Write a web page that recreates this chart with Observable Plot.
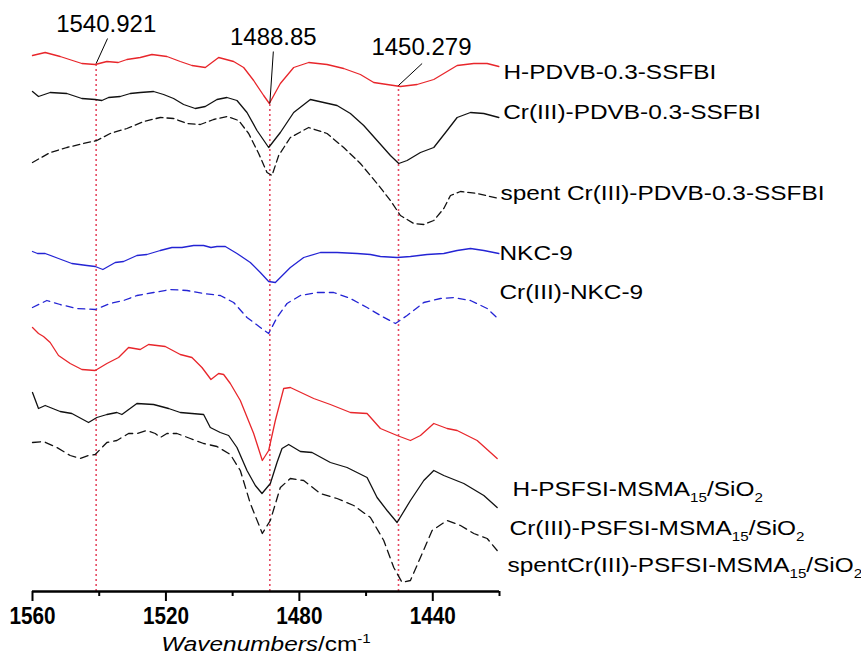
<!DOCTYPE html>
<html><head><meta charset="utf-8">
<script src="https://cdn.jsdelivr.net/npm/d3@7"></script>
<script src="https://cdn.jsdelivr.net/npm/@observablehq/plot@0.6"></script>
<style>body{margin:0;background:#fff;} svg{display:block;}</style>
</head><body><div id="chart"></div>
<script>
// ---- data: [wavenumber (cm-1), offset intensity (a.u.)] ----
const hPdvb = [[1560,53.6],[1556.2,53.9],[1551.7,53.5],[1545.2,52.8],[1541.2,52.7],[1537.7,53.0],[1534.3,52.9],[1531.7,53.2],[1527.7,53.4],[1524.2,53.7],[1519.7,53.5],[1515.7,53.0],[1512.2,52.6],[1508.2,52.4],[1504.2,53.4],[1499.7,53.0],[1496.7,52.4],[1493.7,51.1],[1490.7,49.6],[1489.0,48.8],[1485.7,50.8],[1481.7,52.4],[1477.2,52.9],[1471.7,52.7],[1466.7,52.3],[1461.7,51.7],[1457.7,50.9],[1453.7,50.7],[1449.7,50.5],[1444.7,50.7],[1439.7,51.2],[1435.7,52.0],[1432.7,52.6],[1427.7,52.8],[1423.7,52.8],[1420.2,52.5]];
const crPdvb = [[1560,50.0],[1558.2,49.5],[1554.7,49.9],[1549.7,49.8],[1545.2,49.3],[1541.2,49.2],[1539.2,49.1],[1537.2,49.4],[1533.7,49.5],[1530.7,49.8],[1527.7,49.9],[1523.7,50.0],[1520.7,49.7],[1517.7,49.3],[1514.7,48.7],[1511.2,48.3],[1508.2,48.5],[1504.7,49.2],[1501.7,49.4],[1498.7,49.1],[1495.7,47.9],[1492.7,46.1],[1489.2,44.4],[1485.7,45.9],[1481.7,47.9],[1476.7,49.2],[1472.7,48.9],[1468.7,48.6],[1464.7,47.8],[1460.7,46.6],[1456.7,45.1],[1452.7,43.6],[1450.2,42.8],[1447.7,43.1],[1443.7,43.9],[1439.7,44.4],[1435.7,46.1],[1432.7,47.4],[1428.7,47.9],[1424.7,47.8],[1420.2,47.4]];
const spentPdvb = [[1560,42.9],[1554.7,43.9],[1549.7,44.4],[1544.7,44.8],[1540.7,45.1],[1536.7,45.8],[1531.7,46.3],[1526.7,47.0],[1521.7,47.4],[1517.7,47.3],[1513.7,46.8],[1509.7,46.7],[1505.7,47.2],[1501.7,47.5],[1498.2,47.1],[1495.2,45.8],[1492.2,43.8],[1489.7,41.9],[1488.2,41.6],[1486.2,43.6],[1482.7,45.4],[1477.2,46.4],[1471.7,45.8],[1466.7,44.4],[1461.7,42.8],[1456.7,40.8],[1452.7,39.1],[1449.7,37.6],[1445.7,36.8],[1442.7,36.7],[1439.7,37.1],[1436.7,38.3],[1434.7,39.6],[1431.7,40.0],[1426.7,39.8],[1420.2,39.3]];
const nkc9 = [[1560,34.0],[1558.5,33.8],[1556.2,33.8],[1552.2,33.3],[1548.2,32.8],[1543.7,32.6],[1541.2,32.5],[1538.9,32.2],[1535.2,32.9],[1532.7,33.0],[1528.7,33.6],[1525.7,33.7],[1521.7,34.1],[1518.2,34.4],[1515.2,34.4],[1511.7,34.6],[1508.7,34.6],[1506.5,34.4],[1504.7,34.5],[1502.2,34.5],[1498.7,33.8],[1494.7,32.9],[1491.7,31.9],[1489.2,31.0],[1487.2,30.9],[1482.7,32.4],[1478.7,33.4],[1473.7,33.9],[1468.7,33.9],[1462.7,33.8],[1458.7,33.7],[1455.7,33.5],[1450.7,33.4],[1446.7,33.5],[1441.7,33.7],[1436.7,33.8],[1432.7,34.1],[1428.7,34.3],[1424.7,34.1],[1420.2,33.8]];
const crNkc9 = [[1560,28.4],[1555.7,29.1],[1551.7,28.7],[1546.7,28.3],[1541.2,28.2],[1536.7,28.8],[1532.7,29.1],[1528.7,29.6],[1523.7,29.9],[1518.7,30.2],[1513.7,30.1],[1508.7,29.8],[1503.7,29.6],[1499.7,28.9],[1495.7,27.4],[1491.7,26.4],[1489.2,25.8],[1486.7,27.4],[1483.7,28.8],[1479.7,29.6],[1474.7,29.9],[1469.7,29.9],[1464.7,29.3],[1459.7,28.4],[1455.7,27.6],[1451.2,26.8],[1447.7,27.6],[1442.7,28.9],[1437.7,29.3],[1433.7,29.4],[1428.7,29.1],[1423.7,28.3],[1420.2,27.2]];
const hPsfsi = [[1560,26.4],[1558.2,25.8],[1556.7,25.5],[1554.7,24.9],[1552.2,23.6],[1548.7,22.8],[1545.2,22.2],[1541.2,22.1],[1537.7,22.8],[1534.2,23.4],[1531.2,24.4],[1527.7,24.2],[1525.2,24.7],[1520.2,24.5],[1515.7,23.7],[1512.2,23.4],[1509.2,22.4],[1506.5,21.2],[1504.2,21.8],[1502.7,21.7],[1500.7,20.8],[1497.7,19.1],[1493.7,15.8],[1491.1,13.1],[1489.2,14.1],[1487.2,17.1],[1484.7,20.3],[1482.7,20.4],[1475.7,19.3],[1470.7,18.7],[1464.7,17.9],[1459.7,17.8],[1455.7,16.3],[1450.7,15.6],[1446.7,15.1],[1443.7,15.6],[1439.7,16.8],[1435.7,16.3],[1432.7,16.1],[1426.7,15.1],[1420.7,13.3]];
const crPsfsi = [[1560,19.9],[1558.2,18.3],[1556.2,18.6],[1551.7,18.0],[1548.2,17.8],[1543.2,16.9],[1540.7,17.4],[1537.7,17.7],[1534.7,17.9],[1533.2,17.7],[1528.7,18.8],[1523.7,18.7],[1519.2,18.3],[1515.7,17.9],[1512.2,17.8],[1508.7,17.7],[1506.7,16.4],[1503.7,15.9],[1501.2,15.6],[1498.7,14.4],[1495.7,12.1],[1493.2,10.6],[1491.2,9.8],[1488.7,10.8],[1486.7,12.9],[1485.2,14.3],[1483.2,14.7],[1479.7,14.0],[1476.2,13.9],[1470.7,12.9],[1465.7,12.4],[1459.7,11.4],[1456.7,9.4],[1453.7,8.1],[1450.7,6.9],[1446.7,9.1],[1442.7,11.1],[1439.7,12.1],[1436.7,11.6],[1430.7,10.8],[1424.7,9.6],[1420.7,8.4]];
const spentPsfsi = [[1560,14.9],[1556.7,15.0],[1552.7,14.4],[1548.7,13.6],[1545.7,13.3],[1543.2,13.6],[1541.2,13.7],[1537.7,14.9],[1534.7,15.1],[1531.2,15.8],[1528.7,15.8],[1525.7,16.1],[1523.2,15.8],[1521.7,15.4],[1519.7,15.8],[1516.7,15.8],[1512.7,15.3],[1508.7,14.8],[1504.7,14.5],[1500.7,13.7],[1497.7,12.1],[1494.7,8.8],[1491.1,5.8],[1488.7,7.1],[1485.7,10.4],[1482.7,11.3],[1478.7,11.1],[1473.7,9.8],[1468.7,9.3],[1463.7,8.6],[1458.7,7.4],[1454.7,5.1],[1451.7,2.4],[1449.2,0.9],[1446.7,1.1],[1443.7,3.4],[1440.2,6.1],[1435.7,7.1],[1431.7,6.6],[1427.7,5.8],[1423.7,5.3],[1420.7,4.1]];

const seriesNames = ["H-PDVB-0.3-SSFBI","Cr(III)-PDVB-0.3-SSFBI","spent Cr(III)-PDVB-0.3-SSFBI","NKC-9","Cr(III)-NKC-9","H-PSFSI-MSMA_{15}/SiO_{2}","Cr(III)-PSFSI-MSMA_{15}/SiO_{2}","spentCr(III)-PSFSI-MSMA_{15}/SiO_{2}"];
const labelWn  = [1418.8,1418.9,1419.7,1420.0,1420.0,1416.1,1417.0,1417.6];
const labelVal = [51.9,47.9,39.8,33.8,29.9,10.2,6.3,2.6];

const peakWn = [1540.921,1488.85,1450.279];
const peakTop = [52.8,48.8,50.6];
const peakLabels = ["1540.921","1488.85","1450.279"];
const peakLabelWn = [1537.9,1487.8,1443.4];
const peakLabelVal = [56.7,55.4,54.4];
const leaderWn = [1537.5,1487.8,1443.2];
const leaderVal = [55.3,54.0,52.8];

const majorTicks = [1560,1520,1480,1440];
const minorTicks = [1540,1500,1460,1420];
const xTitle = "*Wavenumbers*/cm^{-1}";

// ---- styles ----
const RED = "#e8262b", BLUE = "#2424d4", BLACK = "#111";
const seriesStyles = [
  {stroke: RED}, {stroke: BLACK}, {stroke: BLACK, dash: "7,4"},
  {stroke: BLUE}, {stroke: BLUE, dash: "7,5"},
  {stroke: RED}, {stroke: BLACK}, {stroke: BLACK, dash: "8,5"}
];
const allSeries = [hPdvb, crPdvb, spentPdvb, nkc9, crNkc9, hPsfsi, crPsfsi, spentPsfsi];
const rows = allSeries.flatMap((s, k) => s.map(([wn, v]) => ({wn, v, k})));
const idx3 = peakWn.map((d, i) => i);
const idx8 = seriesNames.map((d, i) => i);

const FONT = "'Liberation Sans', Arial, Helvetica, sans-serif";

const plot = Plot.plot({
  width: 861, height: 655,
  marginLeft: 32, marginRight: 362, marginTop: 0, marginBottom: 64,
  style: {fontFamily: FONT, background: "white", color: "black", overflow: "visible"},
  x: {domain: [1560, 1420], label: null},
  y: {domain: [0, 59.1], axis: null, label: null},
  marks: [
    Plot.ruleX(idx3, {x: i => peakWn[i], y1: 0, y2: i => peakTop[i], stroke: "#e64a62", strokeWidth: 1.6, strokeDasharray: "2,3"}),
    ...seriesStyles.map((st, k) => Plot.line(rows.filter(r => r.k === k), {
      x: "wn", y: "v", stroke: st.stroke, strokeWidth: 1.3, strokeDasharray: st.dash
    })),
    Plot.link(idx3, {x1: i => leaderWn[i], y1: i => leaderVal[i], x2: i => peakWn[i], y2: i => peakTop[i], stroke: "black", strokeWidth: 1}),
    Plot.text(idx3, {x: i => peakLabelWn[i], y: i => peakLabelVal[i], text: i => peakLabels[i], fontSize: 24, fill: "black", lineAnchor: "middle"}),
    Plot.text(idx8, {x: i => labelWn[i], y: i => labelVal[i], text: i => seriesNames[i], fontSize: 20, fill: "black", textAnchor: "start", lineAnchor: "middle"}),
    Plot.ruleY([0], {stroke: "black", strokeWidth: 2.5}),
    Plot.axisX({ticks: majorTicks, tickSize: 10, tickPadding: 6, tickFormat: d3.format("d"), fontSize: 23, fontWeight: "bold", strokeWidth: 2, label: null}),
    Plot.axisX({ticks: minorTicks, tickSize: 5, tickFormat: () => "", strokeWidth: 2, label: null}),
    Plot.text([xTitle], {frameAnchor: "bottom", dy: 53, text: d => d, fontSize: 20, fill: "black", lineAnchor: "middle"})
  ]
});
document.getElementById("chart").appendChild(plot);

// ---- rich text (sub/superscripts, italics) and glyph stretching ----
function richText(el, size) {
  const raw = el.textContent;
  const parts = raw.split(/(_\{[^}]*\}|\^\{[^}]*\}|\*[^*]*\*)/).filter(p => p !== "");
  while (el.firstChild) el.removeChild(el.firstChild);
  let shift = 0;
  const ns = "http://www.w3.org/2000/svg";
  for (const p of parts) {
    const t = document.createElementNS(ns, "tspan");
    let target = 0, txt = p;
    if (p.startsWith("_{")) { txt = p.slice(2, -1); target = size * 0.32; t.setAttribute("font-size", size * 0.62); }
    else if (p.startsWith("^{")) { txt = p.slice(2, -1); target = -size * 0.42; t.setAttribute("font-size", size * 0.62); }
    else if (p.startsWith("*")) { txt = p.slice(1, -1); t.setAttribute("font-style", "italic"); }
    if (target !== shift) { t.setAttribute("dy", target - shift); shift = target; }
    t.textContent = txt;
    el.appendChild(t);
  }
}
function stretch(el, f) {
  const L = el.getComputedTextLength();
  el.setAttribute("textLength", L * f);
  el.setAttribute("lengthAdjust", "spacingAndGlyphs");
}
const nameSet = new Set(seriesNames);
const tickSet = new Set(majorTicks.map(d => d3.format("d")(d)));
plot.querySelectorAll("text").forEach(el => {
  const s = el.textContent;
  if (nameSet.has(s) || s === xTitle) { richText(el, 20); stretch(el, 1.22); }
  else if (tickSet.has(s)) { stretch(el, 0.9); }
});
</script>
</body></html>
